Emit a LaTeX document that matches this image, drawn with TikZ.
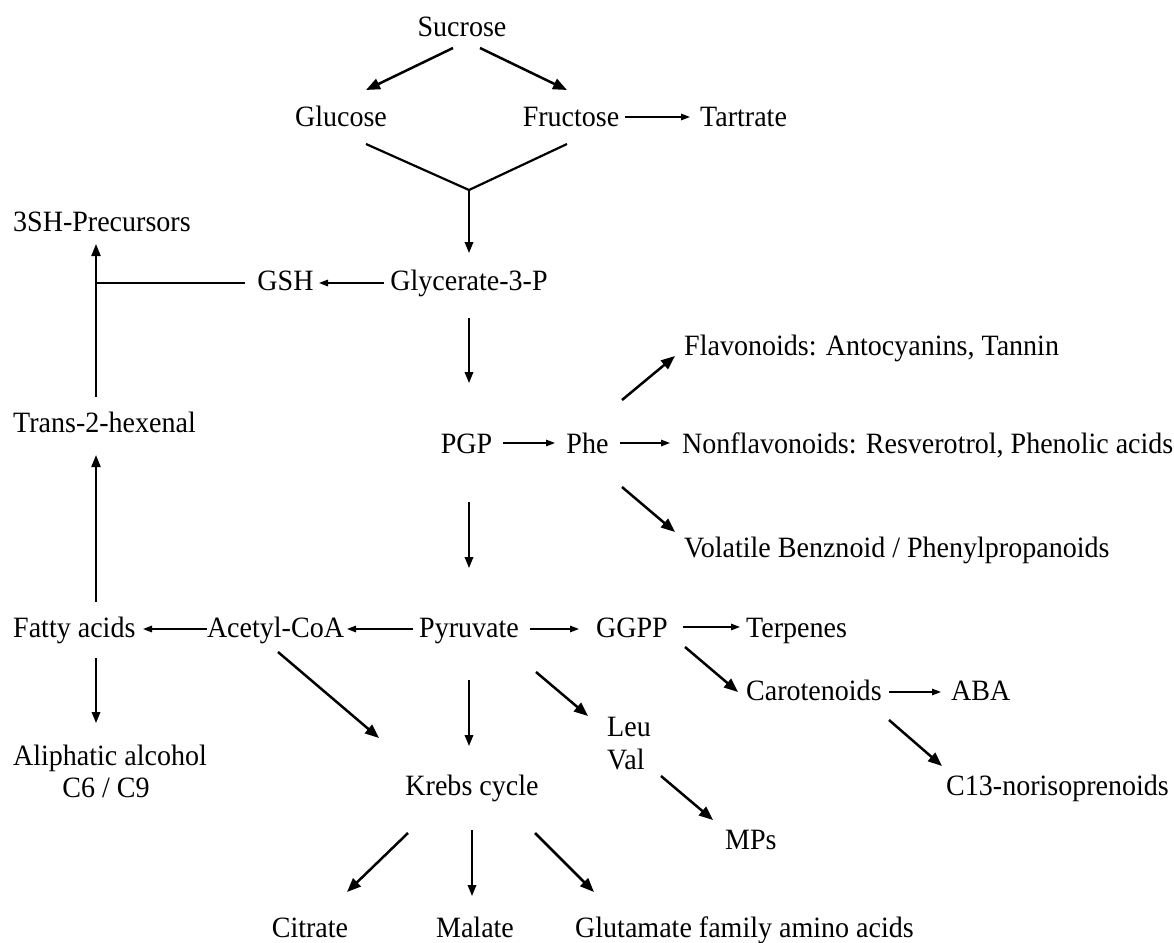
\documentclass[tikz,border=0pt]{standalone}
\usepackage{fontspec}
\setmainfont[FakeStretch=0.95]{Liberation Serif}
\usetikzlibrary{arrows.meta,calc}
\begin{document}
\begin{tikzpicture}[x=1pt,y=-1pt,
  lbl/.style={inner sep=0pt,font=\fontsize{29.5}{35}\selectfont,anchor=base},
  lblw/.style={lbl,anchor=base west},
  harr/.style={line width=1.4pt,-{Triangle[length=9pt,width=6.5pt]}},
  varr/.style={line width=1.8pt,-{Triangle[length=11pt,width=8.5pt]}},
  darr/.style={line width=2.5pt,-{Triangle[length=14pt,width=11pt]}},
  plain/.style={line width=2.2pt}]
\useasboundingbox (0,0) rectangle (1174,942);
% nodes
\node[lbl]  (sucrose)  at (462,37)  {Sucrose};
\node[lbl]  (glucose)  at (341,126) {Glucose};
\node[lbl]  (fructose) at (571,126) {Fructose};
\node[lblw] (tartrate) at (700,126) {Tartrate};
\node[lblw] (threesh)  at (13,231)  {3SH-Precursors};
\node[lbl]  (gsh)      at (285.5,290) {GSH};
\node[lbl]  (gly)      at (469,290) {Glycerate-3-P};
\node[lblw] (flav)     at (684,355) {Flavonoids: Antocyanins, Tannin};
\node[lblw] (trans)    at (13,432)  {Trans-2-hexenal};
\node[lbl]  (pgp)      at (466.5,453) {PGP};
\node[lbl]  (phe)      at (587.5,453) {Phe};
\node[lblw] (nonflav)  at (682,453) {Nonflavonoids: Resverotrol, Phenolic acids};
\node[lblw] (vol)      at (684,557) {Volatile Benznoid / Phenylpropanoids};
\node[lblw] (fatty)    at (13,637)  {Fatty acids};
\node[lbl]  (acetyl)   at (275.5,637) {Acetyl-CoA};
\node[lbl]  (pyr)      at (469,637) {Pyruvate};
\node[lbl]  (ggpp)     at (632,637) {GGPP};
\node[lblw] (terp)     at (746,637) {Terpenes};
\node[lblw] (carot)    at (746,700) {Carotenoids};
\node[lblw] (aba)      at (951,700) {ABA};
\node[lblw] (leu)      at (607,736) {Leu};
\node[lblw] (val)      at (607,769) {Val};
\node[lbl]  (aliph)    at (110,765) {Aliphatic alcohol};
\node[lbl]  (c6)       at (106,797) {C6 / C9};
\node[lbl]  (krebs)    at (472,795) {Krebs cycle};
\node[lblw] (c13)      at (946,795) {C13-norisoprenoids};
\node[lblw] (mps)      at (725,849) {MPs};
\node[lbl]  (citrate)  at (310,937) {Citrate};
\node[lbl]  (malate)   at (475,937) {Malate};
\node[lblw] (glut)     at (575,937) {Glutamate family amino acids};
\coordinate (junc) at (469,190);
% top
\draw[darr] ($(sucrose.base)+(-9,11)$) -- ($(glucose.base)+(25,-36)$);
\draw[darr] ($(sucrose.base)+(18,11)$) -- ($(fructose.base)+(-4,-36)$);
\draw[harr] ($(fructose.base)+(54,-9)$) -- ($(tartrate.base west)+(-10,-9)$);
\draw[plain] ($(glucose.base)+(25,18)$) -- (junc) -- ($(fructose.base)+(-4,18)$);
\draw[varr] (junc) -- ($(gly.base)+(0,-37)$);
\draw[harr] ($(gly.base)+(-85,-7)$) -- ($(gsh.base)+(33.5,-7)$);
\draw[plain] ($(gsh.base)+(-40.5,-7)$) -- ($(threesh.base west)+(83,52)$);
\draw[plain,-{Triangle[length=12pt,width=9pt]}] ($(trans.base west)+(83,-35)$) -- ($(threesh.base west)+(83,13)$);
% middle
\draw[varr] ($(gly.base)+(0,28)$) -- ($(pgp.base)+(2.5,-70)$);
\draw[harr] ($(pgp.base)+(36.5,-10)$) -- ($(phe.base)+(-32.5,-10)$);
\draw[harr] ($(phe.base)+(32.5,-10)$) -- ($(nonflav.base west)+(-12,-10)$);
\draw[darr] ($(phe.base)+(34.5,-53)$) -- ($(flav.base west)+(-9,1)$);
\draw[darr] ($(phe.base)+(34.5,34)$) -- ($(vol.base west)+(-9,-25)$);
\draw[plain,-{Triangle[length=12pt,width=9pt]}] ($(fatty.base west)+(83,-35)$) -- ($(trans.base west)+(83,23)$);
\draw[varr] ($(pgp.base)+(2.5,49)$) -- ($(pyr.base)+(0,-69)$);
% pyruvate row
\draw[harr] ($(pyr.base)+(-56,-8)$) -- ($(acetyl.base)+(71.5,-8)$);
\draw[harr] ($(acetyl.base)+(-68.5,-8)$) -- ($(fatty.base west)+(130,-8)$);
\draw[harr] ($(pyr.base)+(61,-8)$) -- ($(ggpp.base)+(-53,-8)$);
\draw[harr] ($(ggpp.base)+(51,-10)$) -- ($(terp.base west)+(-6,-10)$);
\draw[darr] ($(ggpp.base)+(53,10)$) -- ($(carot.base west)+(-8,-8)$);
\draw[harr] ($(carot.base west)+(143,-8)$) -- ($(aba.base west)+(-10,-8)$);
\draw[darr] ($(carot.base west)+(143,20)$) -- ($(c13.base west)+(-4,-29)$);
% lower
\draw[varr] ($(fatty.base west)+(83,21)$) -- ($(aliph.base)+(-14,-42)$);
\draw[darr] ($(acetyl.base)+(2.5,15)$) -- ($(krebs.base)+(-93,-57)$);
\draw[varr] ($(pyr.base)+(0,43)$) -- ($(krebs.base)+(-3,-49)$);
\draw[darr] ($(pyr.base)+(67,35)$) -- ($(leu.base west)+(-19,-20)$);
\draw[darr] ($(val.base west)+(54,7)$) -- ($(mps.base west)+(-12,-29)$);
\draw[darr] ($(krebs.base)+(-64,38)$) -- ($(citrate.base)+(37,-45)$);
\draw[varr] ($(krebs.base)+(0,35)$) -- ($(malate.base)+(-3,-41)$);
\draw[darr] ($(krebs.base)+(63,38)$) -- ($(glut.base west)+(19,-45)$);
\end{tikzpicture}
\end{document}
